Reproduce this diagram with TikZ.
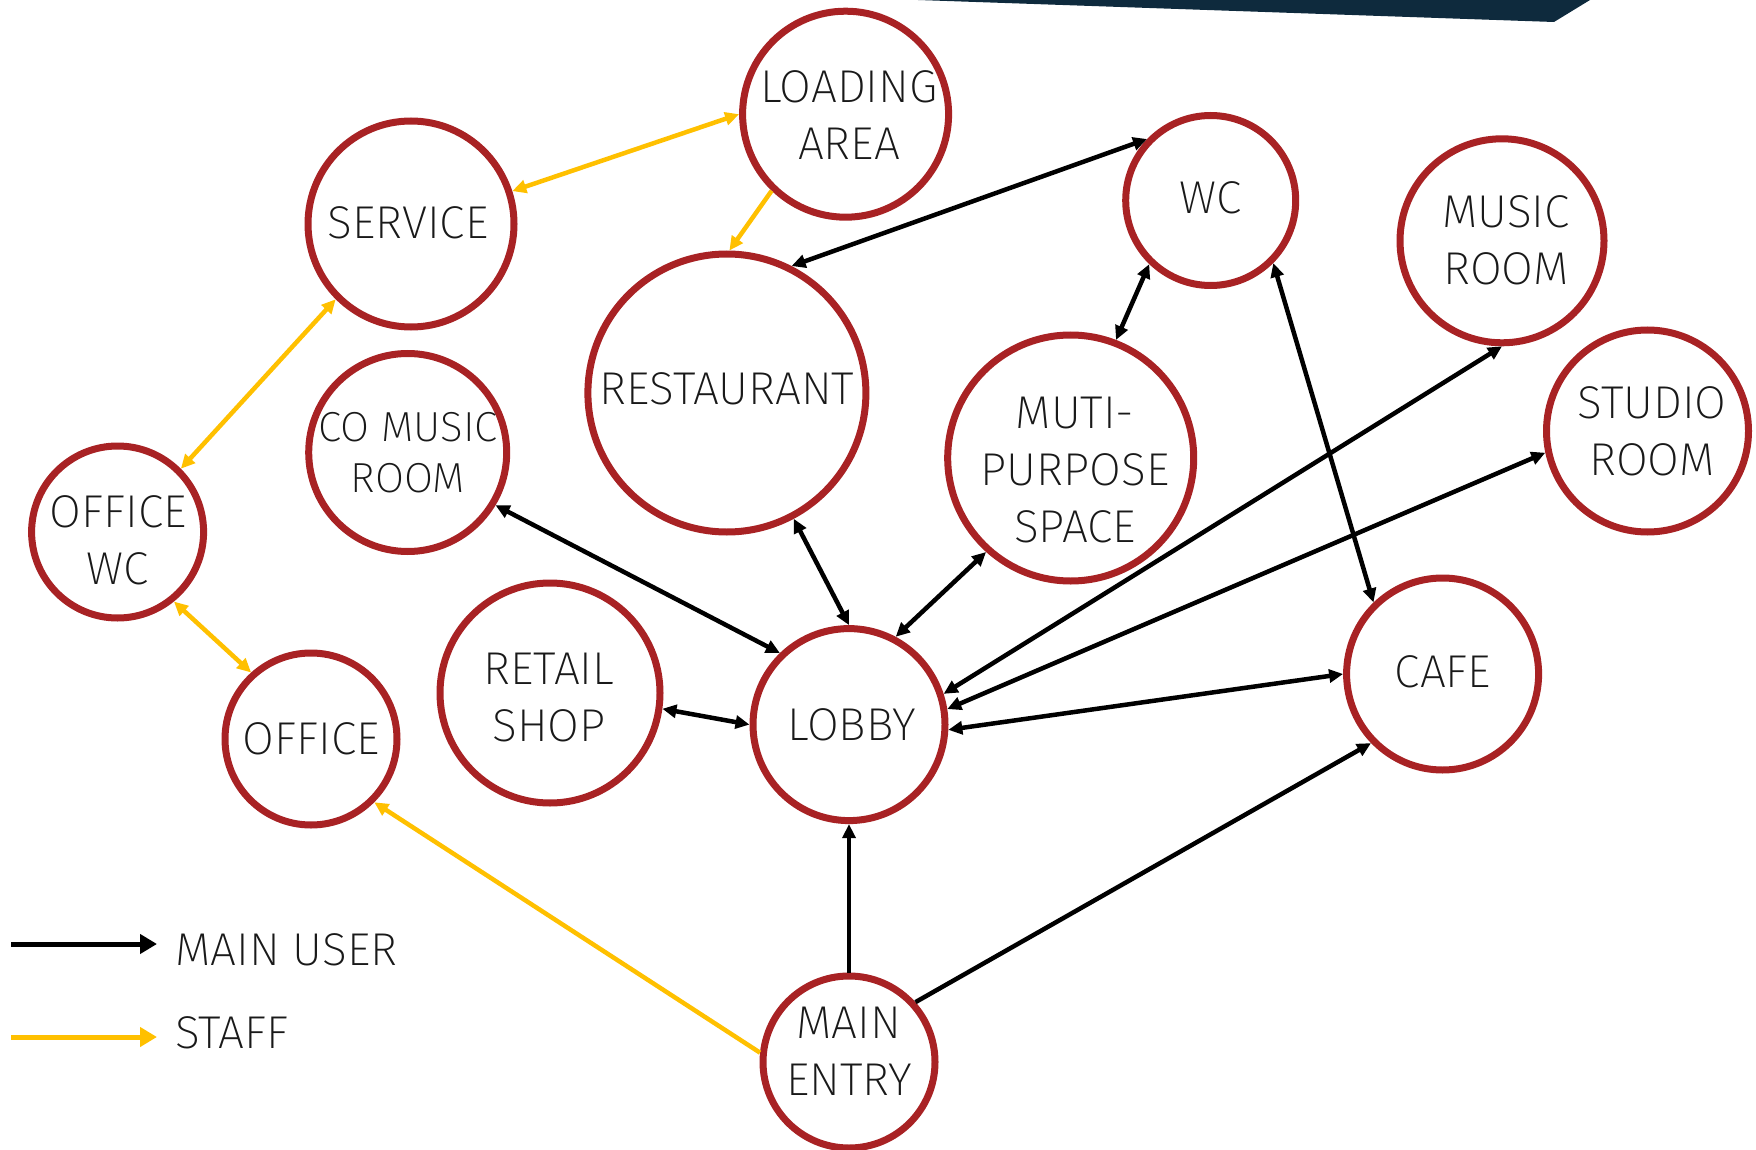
\documentclass[tikz,border=0pt]{standalone}
\usepackage{fontspec}
\setmainfont{Fira Sans ExtraLight}
\usetikzlibrary{arrows.meta}
\definecolor{ring}{RGB}{168,34,36}
\definecolor{staffc}{RGB}{255,192,0}
\definecolor{navy}{RGB}{14,42,61}
\begin{document}
\begin{tikzpicture}[x=1pt,y=-1pt,
  room/.style={circle, draw=ring, line width=7pt, inner sep=0pt, minimum size=#1},
  lbl/.style={align=center, inner sep=0pt, text=black!90, font=\fontsize{46}{57}\selectfont},
  usr/.style={draw=black, line width=4.5pt, {Triangle[length=14pt,width=13pt]}-{Triangle[length=14pt,width=13pt]}},
  usrone/.style={draw=black, line width=4.5pt, -{Triangle[length=14pt,width=13pt]}},
  stf/.style={draw=staffc, line width=4.5pt, {Triangle[length=14pt,width=13pt]}-{Triangle[length=14pt,width=13pt]}},
  stfone/.style={draw=staffc, line width=4.5pt, -{Triangle[length=14pt,width=13pt]}},
  leg/.style={line width=5pt, -{Triangle[length=17pt,width=19pt]}}]
\useasboundingbox (0,0) rectangle (1756,1150);
\fill[navy] (918,0) -- (1554,22) -- (1590,0) -- cycle;

% rooms
\node[room=206pt] (load) at (845.6,114.2) {};
\node[room=206pt] (serv) at (411,224) {};
\node[room=170pt] (wc) at (1210.7,200.5) {};
\node[room=204pt] (music) at (1502,240.8) {};
\node[room=278pt] (rest) at (726.9,393) {};
\node[room=198pt] (comus) at (407.7,452.5) {};
\node[room=246pt] (muti) at (1070.7,458) {};
\node[room=202pt] (studio) at (1647.5,431) {};
\node[room=172pt] (owc) at (117.6,532) {};
\node[room=220pt] (retail) at (550,693) {};
\node[room=192pt] (lobby) at (849,724.6) {};
\node[room=192pt] (cafe) at (1442.6,674) {};
\node[room=172pt] (office) at (311,739) {};
\node[room=172pt] (entry) at (849,1062) {};

% labels
\node[lbl] (load-t) at (849,115) {LOADING\\AREA};
\node[lbl] (serv-t) at (408,223) {SERVICE};
\node[lbl] (wc-t) at (1211,198) {WC};
\node[lbl] (music-t) at (1506,240) {MUSIC\\ROOM};
\node[lbl] (rest-t) at (727,389) {RESTAURANT};
\node[lbl, font=\fontsize{42}{51}\selectfont] (comus-t) at (408,453) {CO MUSIC\\ROOM};
\node[lbl] (muti-t) at (1075,470) {MUTI-\\PURPOSE\\SPACE};
\node[lbl] (studio-t) at (1652,431) {STUDIO\\ROOM};
\node[lbl] (owc-t) at (118,540) {OFFICE\\WC};
\node[lbl] (retail-t) at (549,698) {RETAIL\\SHOP};
\node[lbl] (lobby-t) at (852,725) {LOBBY};
\node[lbl] (cafe-t) at (1443,672) {CAFE};
\node[lbl] (office-t) at (311,739) {OFFICE};
\node[lbl] (entry-t) at (849,1051) {MAIN\\ENTRY};

% staff connectors
\draw[stf] (serv.18.6) -- (load.180);
\draw[stfone] (load.226) -- (rest.89);
\draw[stf] (serv.225) -- (owc.45);
\draw[stf] (owc.309) -- (office.132.4);
\draw[stfone] (entry.174) -- (office.315);

% main user connectors
\draw[usr] (wc.136.6) -- (rest.63.4);
\draw[usr] (wc.226) -- (muti.69.3);
\draw[usr] (wc.315) -- (cafe.134.5);
\draw[usr] (music.270) -- (lobby.18.8);
\draw[usr] (studio.192.7) -- (lobby.9.7);
\draw[usr] (cafe.180.7) -- (lobby.357.4);
\draw[usr] (comus.329.7) -- (lobby.134);
\draw[usr] (rest.298.4) -- (lobby.90.6);
\draw[usr] (muti.228) -- (lobby.62.6);
\draw[usr] (retail.352.6) -- (lobby.180);
\draw[usrone] (entry.90) -- (lobby.270);
\draw[usrone] (entry.42.2) -- (cafe.224.5);

% legend
\coordinate (l1a) at (11,944);
\coordinate (l1b) at (157,944);
\coordinate (l2a) at (11,1037);
\coordinate (l2b) at (157,1037);
\draw[leg, draw=black, fill=black] (l1a) -- (l1b);
\draw[leg, draw=staffc, fill=staffc] (l2a) -- (l2b);
\node[lbl, anchor=west] (leg1) at (175,950) {MAIN USER};
\node[lbl, anchor=west] (leg2) at (175,1033) {STAFF};
\end{tikzpicture}
\end{document}
